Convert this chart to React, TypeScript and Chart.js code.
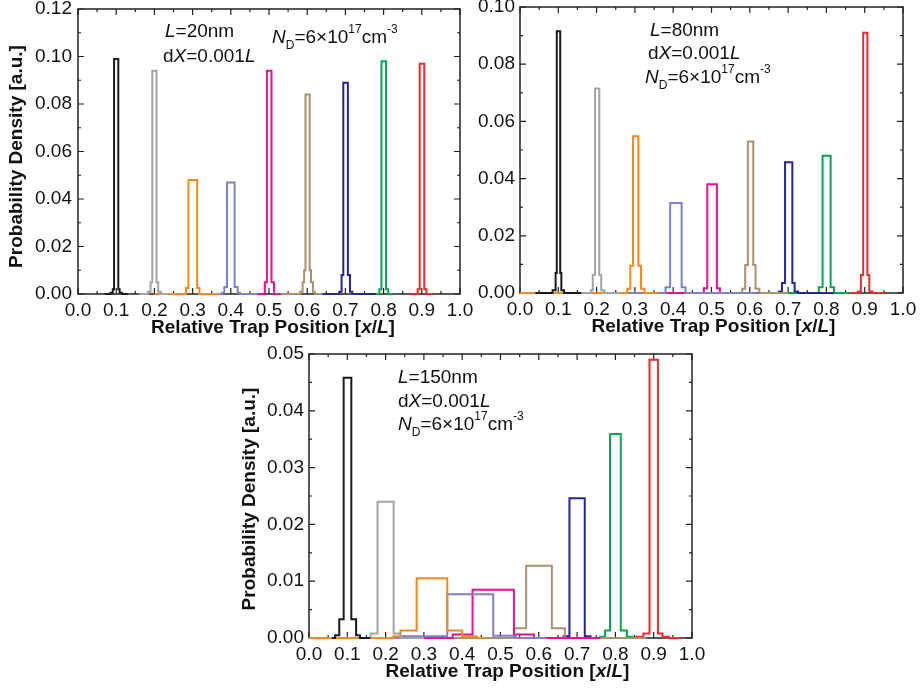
import React, { useEffect, useRef } from 'react';
import { Chart, registerables } from 'chart.js';

Chart.register(...registerables);

// ---------- data ----------
const seriesNames = ['0.1', '0.2', '0.3', '0.4', '0.5', '0.6', '0.7', '0.8', '0.9'];
const seriesColors = ['#1a1a1a', '#a3a3a3', '#f7891f', '#8080c8', '#ec0f8c', '#a89070', '#262690', '#00a651', '#ee2a2a'];

const xTickLabels = ['0.0', '0.1', '0.2', '0.3', '0.4', '0.5', '0.6', '0.7', '0.8', '0.9', '1.0'];

// L = 20 nm : bin edges and probability density per bin
const edgesL20: number[][] = [
  [0.07, 0.085, 0.091, 0.0945, 0.1055, 0.109, 0.115, 0.13],
  [0.16, 0.183, 0.19, 0.1945, 0.2055, 0.21, 0.217, 0.24],
  [0.2, 0.283, 0.289, 0.312, 0.318, 0.37],
  [0.33, 0.377, 0.383, 0.39, 0.41, 0.418, 0.424, 0.47],
  [0.46, 0.489, 0.4945, 0.5065, 0.513, 0.53],
  [0.53, 0.582, 0.588, 0.592, 0.5955, 0.6065, 0.61, 0.615, 0.62, 0.64],
  [0.62, 0.684, 0.69, 0.6945, 0.7065, 0.712, 0.718, 0.78],
  [0.775, 0.789, 0.7945, 0.8065, 0.812, 0.825],
  [0.87, 0.889, 0.8945, 0.9065, 0.912, 0.93],
];
const densL20: number[][] = [
  [0, 0.0005, 0.002, 0.099, 0.002, 0.0005, 0],
  [0, 0.001, 0.005, 0.094, 0.005, 0.001, 0],
  [0, 0.0025, 0.048, 0.0025, 0],
  [0, 0.0005, 0.003, 0.047, 0.003, 0.0005, 0],
  [0, 0.005, 0.094, 0.005, 0],
  [0, 0.001, 0.005, 0.01, 0.084, 0.01, 0.005, 0.001, 0],
  [0, 0.001, 0.008, 0.089, 0.008, 0.001, 0],
  [0, 0.002, 0.098, 0.002, 0],
  [0, 0.002, 0.097, 0.002, 0],
];

// L = 80 nm
const edgesL80: number[][] = [
  [0.04, 0.085, 0.093, 0.096, 0.105, 0.108, 0.115, 0.16],
  [0.12, 0.185, 0.19, 0.196, 0.207, 0.212, 0.22, 0.26],
  [0.0, 0.28, 0.288, 0.295, 0.309, 0.316, 0.325, 0.36],
  [0.25, 0.38, 0.392, 0.422, 0.432, 0.62],
  [0.37, 0.48, 0.489, 0.514, 0.522, 0.62],
  [0.45, 0.58, 0.588, 0.595, 0.609, 0.615, 0.625, 0.7],
  [0.59, 0.676, 0.684, 0.692, 0.711, 0.717, 0.726, 0.82],
  [0.7, 0.78, 0.79, 0.811, 0.82, 0.86],
  [0.85, 0.882, 0.89, 0.896, 0.907, 0.912, 0.92, 0.95],
];
const densL80: number[][] = [
  [0, 0.001, 0.007, 0.0915, 0.007, 0.001, 0],
  [0, 0.001, 0.0063, 0.0715, 0.0063, 0.001, 0],
  [0, 0.0015, 0.0095, 0.0548, 0.0095, 0.0015, 0],
  [0, 0.002, 0.0315, 0.002, 0],
  [0, 0.0017, 0.038, 0.0017, 0],
  [0, 0.0015, 0.0098, 0.053, 0.0098, 0.0015, 0],
  [0, 0.0005, 0.0035, 0.0457, 0.0035, 0.0005, 0],
  [0, 0.002, 0.048, 0.002, 0],
  [0, 0.0005, 0.0063, 0.091, 0.0063, 0.0005, 0],
];

// L = 150 nm
const edgesL150: number[][] = [
  [0.06, 0.068, 0.079, 0.0905, 0.1105, 0.123, 0.133, 0.16],
  [0.14, 0.161, 0.179, 0.221, 0.238, 0.3],
  [0.0, 0.22, 0.239, 0.281, 0.361, 0.4, 0.438, 0.46],
  [0.06, 0.24, 0.361, 0.481, 0.54, 0.62],
  [0.16, 0.375, 0.427, 0.535, 0.587, 0.76],
  [0.24, 0.535, 0.567, 0.634, 0.668, 0.88],
  [0.6, 0.665, 0.68, 0.72, 0.735, 0.78],
  [0.74, 0.76, 0.773, 0.786, 0.814, 0.83, 0.845, 0.86],
  [0.84, 0.855, 0.873, 0.889, 0.911, 0.923, 0.94, 0.97],
];
const densL150: number[][] = [
  [0, 0.0005, 0.0033, 0.0458, 0.0033, 0.0005, 0],
  [0, 0.0008, 0.024, 0.0008, 0],
  [0, 0.0003, 0.0013, 0.0105, 0.0013, 0.0003, 0],
  [0, 0.0003, 0.0077, 0.0004, 0],
  [0, 0.0006, 0.0085, 0.0006, 0],
  [0, 0.0017, 0.0127, 0.0017, 0],
  [0, 0.0003, 0.0246, 0.0003, 0],
  [0, 0.0002, 0.0013, 0.0359, 0.0013, 0.0002, 0],
  [0, 0.0002, 0.0008, 0.049, 0.0008, 0.0002, 0],
];

const yTicksL20 = ['0.00', '0.02', '0.04', '0.06', '0.08', '0.10', '0.12'];
const yTicksL80 = ['0.00', '0.02', '0.04', '0.06', '0.08', '0.10'];
const yTicksL150 = ['0.00', '0.01', '0.02', '0.03', '0.04', '0.05'];

type Seg = [string, string];
const notesL20: Seg[][] = [
  [['L', 'i'], ['=20nm', 'n']],
  [['d', 'n'], ['X', 'i'], ['=0.001', 'n'], ['L', 'i']],
  [['N', 'i'], ['D', 'sub'], ['=6×10', 'n'], ['17', 'sup'], ['cm', 'n'], ['-3', 'sup']],
];
const notesL80: Seg[][] = [
  [['L', 'i'], ['=80nm', 'n']],
  [['d', 'n'], ['X', 'i'], ['=0.001', 'n'], ['L', 'i']],
  [['N', 'i'], ['D', 'sub'], ['=6×10', 'n'], ['17', 'sup'], ['cm', 'n'], ['-3', 'sup']],
];
const notesL150: Seg[][] = [
  [['L', 'i'], ['=150nm', 'n']],
  [['d', 'n'], ['X', 'i'], ['=0.001', 'n'], ['L', 'i']],
  [['N', 'i'], ['D', 'sub'], ['=6×10', 'n'], ['17', 'sup'], ['cm', 'n'], ['-3', 'sup']],
];

const yTitleText: Seg[] = [['Probability Density [a.u.]', 'n']];
const xTitleText: Seg[] = [['Relative Trap Position [', 'n'], ['x', 'i'], ['/', 'n'], ['L', 'i'], [']', 'n']];

// ---------- drawing helpers ----------
const FAMILY = '"Liberation Sans", Arial, Helvetica, sans-serif';

function fontFor(kind: string, size: number, bold: boolean) {
  const small = kind === 'sub' || kind === 'sup';
  const sz = small ? Math.round(size * 0.62) : size;
  const it = kind === 'i' ? 'italic ' : '';
  return `${it}${bold ? 'bold ' : ''}${sz}px ${FAMILY}`;
}

function drawRich(ctx: CanvasRenderingContext2D, segs: Seg[], x: number, y: number, size: number, bold: boolean, center: boolean) {
  let total = 0;
  const widths = segs.map(([t, k]) => {
    ctx.font = fontFor(k, size, bold);
    const w = ctx.measureText(t).width;
    total += w;
    return w;
  });
  let cx = center ? x - total / 2 : x;
  segs.forEach(([t, k], i) => {
    ctx.font = fontFor(k, size, bold);
    const dy = k === 'sub' ? size * 0.33 : k === 'sup' ? -size * 0.55 : 0;
    ctx.fillText(t, cx, y + dy);
    cx += widths[i];
  });
}

const framePlugin = {
  id: 'frame',
  beforeDatasetsDraw(chart: any, _args: any, opts: any) {
    const { ctx, chartArea: a, scales } = chart;
    const x = scales.x;
    const y = scales.y;
    ctx.save();
    ctx.strokeStyle = '#222';
    ctx.lineWidth = 1.5;
    ctx.strokeRect(a.left, a.top, a.right - a.left, a.bottom - a.top);
    ctx.lineWidth = 1.2;
    ctx.beginPath();
    const nx = 20;
    for (let i = 0; i <= nx; i++) {
      const px = x.getPixelForValue(i * 0.05);
      const len = i % 2 === 0 ? 6 : 3;
      ctx.moveTo(px, a.bottom);
      ctx.lineTo(px, a.bottom - len);
      ctx.moveTo(px, a.top);
      ctx.lineTo(px, a.top + len);
    }
    const ny = Math.round(opts.yMax / (opts.yStep / 2));
    for (let i = 0; i <= ny; i++) {
      const py = y.getPixelForValue((i * opts.yStep) / 2);
      const len = i % 2 === 0 ? 6 : 3;
      ctx.moveTo(a.left, py);
      ctx.lineTo(a.left + len, py);
      ctx.moveTo(a.right, py);
      ctx.lineTo(a.right - len, py);
    }
    ctx.stroke();
    ctx.restore();
  },
  afterDraw(chart: any, _args: any, opts: any) {
    const { ctx, chartArea: a } = chart;
    ctx.save();
    ctx.fillStyle = '#111';
    ctx.textBaseline = 'alphabetic';
    ctx.textAlign = 'left';
    opts.notes.forEach((line: Seg[], i: number) => {
      const [dx, dy] = opts.notePos[i];
      drawRich(ctx, line, a.left + dx, a.top + dy, 19, false, false);
    });
    ctx.textBaseline = 'middle';
    drawRich(ctx, xTitleText, (a.left + a.right) / 2 + opts.xTitleDx, a.bottom + 34, 19, true, true);
    if (opts.yTitle) {
      ctx.save();
      ctx.translate(a.left + opts.yTitle[0], (a.top + a.bottom) / 2 + opts.yTitle[1]);
      ctx.rotate(-Math.PI / 2);
      drawRich(ctx, yTitleText, 0, 0, 19, true, true);
      ctx.restore();
    }
    ctx.restore();
  },
};

type Panel = {
  edges: number[][];
  dens: number[][];
  yLabels: string[];
  yStep: number;
  area: { l: number; r: number; t: number; b: number };
  yW: number;
  yPad: number;
  yTitle: [number, number] | null;
  xTitleDx: number;
  notes: Seg[][];
  notePos: [number, number][];
};

const W = 921;
const H = 689;

const panels: Panel[] = [
  {
    edges: edgesL20, dens: densL20, yLabels: yTicksL20, yStep: 0.02,
    area: { l: 78, r: 460, t: 9, b: 294 }, yW: 78, yPad: 6, yTitle: [-61, 5], xTitleDx: 4,
    notes: notesL20, notePos: [[87, 28], [85, 53], [194, 34]],
  },
  {
    edges: edgesL80, dens: densL80, yLabels: yTicksL80, yStep: 0.02,
    area: { l: 520, r: 903, t: 7, b: 293 }, yW: 60, yPad: 5, yTitle: null, xTitleDx: 2,
    notes: notesL80, notePos: [[130, 29], [128, 52], [125, 76]],
  },
  {
    edges: edgesL150, dens: densL150, yLabels: yTicksL150, yStep: 0.01,
    area: { l: 309, r: 692, t: 354, b: 638 }, yW: 60, yPad: 5, yTitle: [-59, 3], xTitleDx: 7,
    notes: notesL150, notePos: [[89, 29], [89, 53], [89, 76]],
  },
];

function toPoints(edges: number[], dens: number[]) {
  return edges.map((e, i) => ({ x: e, y: dens[Math.min(i, dens.length - 1)] }));
}

function PanelChart({ p }: { p: Panel }) {
  const ref = useRef<HTMLCanvasElement>(null);
  useEffect(() => {
    if (!ref.current) return;
    const yMax = Number(p.yLabels[p.yLabels.length - 1]);
    const xH = 40;
    const chart = new Chart(ref.current, {
      type: 'line',
      data: {
        datasets: p.edges.map((e, i) => ({
          label: seriesNames[i],
          data: toPoints(e, p.dens[i]),
          borderColor: seriesColors[i],
          backgroundColor: seriesColors[i],
          borderWidth: 2,
          pointRadius: 0,
          stepped: 'before' as const,
          fill: false,
          clip: false as any,
        })),
      },
      options: {
        animation: false,
        responsive: false,
        events: [],
        layout: {
          padding: {
            left: p.area.l - p.yW,
            right: W - p.area.r,
            top: p.area.t,
            bottom: H - p.area.b - xH,
          },
        },
        plugins: {
          legend: { display: false },
          tooltip: { enabled: false },
          frame: { yMax, yStep: p.yStep, notes: p.notes, notePos: p.notePos, yTitle: p.yTitle, xTitleDx: p.xTitleDx },
        } as any,
        scales: {
          x: {
            type: 'linear',
            min: 0,
            max: 1,
            grid: { display: false, drawTicks: false },
            border: { display: false },
            ticks: {
              stepSize: 0.1,
              autoSkip: false,
              maxRotation: 0,
              padding: 5,
              color: '#111',
              font: { family: FAMILY, size: 19 },
              callback: (v: any) => xTickLabels[Math.round(Number(v) * 10)] ?? '',
            },
            afterFit: (s: any) => {
              s.height = xH;
              s.paddingLeft = 0;
              s.paddingRight = 0;
            },
          },
          y: {
            type: 'linear',
            min: 0,
            max: yMax,
            grid: { display: false, drawTicks: false },
            border: { display: false },
            ticks: {
              stepSize: p.yStep,
              autoSkip: false,
              padding: p.yPad,
              color: '#111',
              font: { family: FAMILY, size: 19 },
              callback: (v: any) => p.yLabels[Math.round(Number(v) / p.yStep)] ?? '',
            },
            afterFit: (s: any) => {
              s.width = p.yW;
              s.paddingTop = 0;
              s.paddingBottom = 0;
            },
          },
        },
      },
      plugins: [framePlugin as any],
    });
    return () => chart.destroy();
  }, [p]);
  return <canvas ref={ref} width={W} height={H} style={{ position: 'absolute', left: 0, top: 0 }} />;
}

export default function App() {
  return (
    <div style={{ position: 'fixed', left: 0, top: 0, width: W, height: H, background: '#ffffff' }}>
      {panels.map((p, i) => (
        <PanelChart key={i} p={p} />
      ))}
    </div>
  );
}
